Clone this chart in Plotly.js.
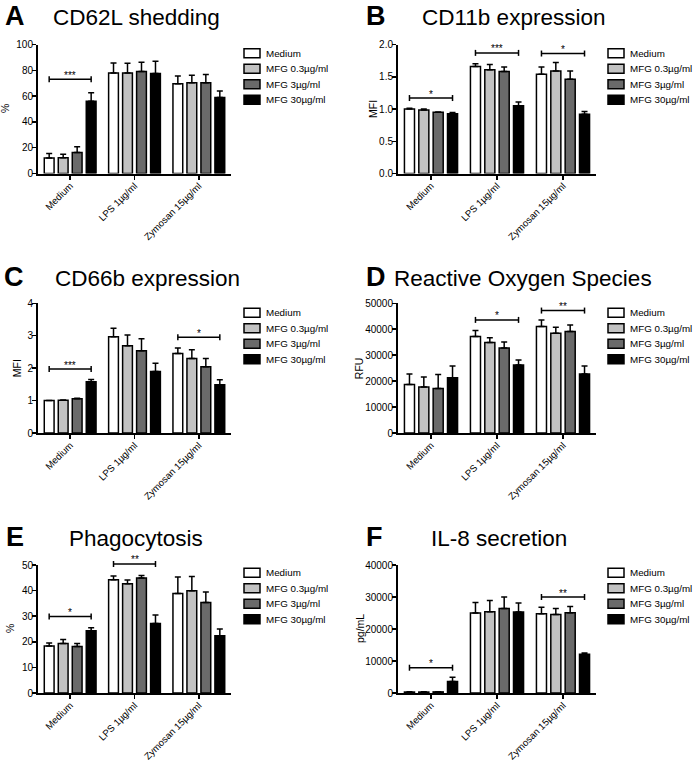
<!DOCTYPE html>
<html><head><meta charset="utf-8">
<script src="https://cdn.plot.ly/plotly-3.0.1.min.js"></script>
<style>html,body{margin:0;padding:0;background:#fff}</style>
</head><body><div id="chart" style="width:696px;height:761px"></div>
<script>
// ---------------- DATA ----------------
const categories = ['Medium', 'LPS 1µg/ml', 'Zymosan 15µg/ml'];
const seriesNames = ['Medium', 'MFG 0.3µg/ml', 'MFG 3µg/ml', 'MFG 30µg/ml'];

// rows = series (Medium, MFG 0.3, MFG 3, MFG 30); columns = categories
const cd62lMean = [[12, 78, 69.5], [12.2, 78, 70.3], [16.3, 79, 70.4], [56, 77.5, 59]];
const cd62lErr  = [[3.5, 7.7, 6], [2.8, 7.5, 5.8], [4.4, 7.3, 6.3], [6.6, 9.5, 5]];
const cd62lSigCat = [0];
const cd62lSigLevel = [73];
const cd62lSigLabel = ['***'];

const cd11bMean = [[1.0, 1.66, 1.54], [0.985, 1.61, 1.59], [0.95, 1.58, 1.46], [0.925, 1.05, 0.92]];
const cd11bErr  = [[0.01, 0.04, 0.11], [0.015, 0.08, 0.13], [0.005, 0.07, 0.13], [0.02, 0.06, 0.04]];
const cd11bSigCat = [0, 1, 2];
const cd11bSigLevel = [1.17, 1.87, 1.86];
const cd11bSigLabel = ['*', '***', '*'];

const cd66bMean = [[1.0, 2.97, 2.45], [1.01, 2.69, 2.3], [1.06, 2.54, 2.04], [1.58, 1.9, 1.49]];
const cd66bErr  = [[0.005, 0.26, 0.17], [0.01, 0.33, 0.27], [0.01, 0.37, 0.26], [0.07, 0.25, 0.15]];
const cd66bSigCat = [0, 2];
const cd66bSigLevel = [1.97, 2.95];
const cd66bSigLabel = ['***', '*'];

const rosMean = [[18700, 37200, 41100], [17700, 34900, 38500], [17200, 32800, 39100], [21300, 26200, 22700]];
const rosErr  = [[4000, 2300, 2500], [3900, 1800, 2300], [5400, 2300, 2500], [4500, 1900, 3100]];
const rosSigCat = [1, 2];
const rosSigLevel = [43600, 47200];
const rosSigLabel = ['*', '**'];

const phagoMean = [[18.4, 44.2, 38.9], [19.3, 42.7, 39.9], [18.2, 44.9, 35.4], [24.3, 27.1, 22.4]];
const phagoErr  = [[1.1, 1.5, 6.4], [1.6, 1.4, 5.6], [1.1, 1.0, 4.1], [1.2, 3.4, 2.6]];
const phagoSigCat = [0, 1];
const phagoSigLevel = [29.9, 50.4];
const phagoSigLabel = ['*', '**'];

const il8Mean = [[300, 25000, 24800], [300, 25400, 24500], [350, 26400, 25100], [3600, 25300, 12100]];
const il8Err  = [[60, 3300, 2000], [60, 3500, 1900], [60, 3600, 1900], [1300, 2800, 400]];
const il8SigCat = [0, 2];
const il8SigLevel = [7900, 30000];
const il8SigLabel = ['*', '**'];

// ---------------- STYLE / LAYOUT ----------------
const W = 696, H = 761;
const FONT = 'Liberation Sans, Arial, Helvetica, sans-serif';
const seriesColors = ['#ffffff', '#c2c2c2', '#6a6a6a', '#000000'];
const BARGAP = 0.13, GROUPGAP = 0.3;
const px = x => x / W;
const py = y => 1 - y / H;

const panels = [
  {letter: 'A', title: 'CD62L shedding', ytitle: '%', mean: cd62lMean, err: cd62lErr,
   sc: cd62lSigCat, sl: cd62lSigLevel, st: cd62lSigLabel, ymax: 100, dtick: 20, fmt: 'd',
   l: 38, r: 231, t: 44.5, b: 173.5, letterX: 3, titleX: 51, rowY: 16, ytX: 5, legX: 244, legY: 53.3},
  {letter: 'B', title: 'CD11b expression', ytitle: 'MFI', mean: cd11bMean, err: cd11bErr,
   sc: cd11bSigCat, sl: cd11bSigLevel, st: cd11bSigLabel, ymax: 2, dtick: 0.5, fmt: '.1f',
   l: 398, r: 596, t: 44.5, b: 173.5, letterX: 364, titleX: 420, rowY: 16, ytX: 373, legX: 608, legY: 53.3},
  {letter: 'C', title: 'CD66b expression', ytitle: 'MFI', mean: cd66bMean, err: cd66bErr,
   sc: cd66bSigCat, sl: cd66bSigLevel, st: cd66bSigLabel, ymax: 4, dtick: 1, fmt: 'd',
   l: 38, r: 231, t: 303.3, b: 433, letterX: 2, titleX: 53, rowY: 277, ytX: 17, legX: 244, legY: 312.7},
  {letter: 'D', title: 'Reactive Oxygen Species', ytitle: 'RFU', mean: rosMean, err: rosErr,
   sc: rosSigCat, sl: rosSigLevel, st: rosSigLabel, ymax: 50000, dtick: 10000, fmt: 'd',
   l: 398, r: 596, t: 303.3, b: 433, letterX: 364, titleX: 392, rowY: 277, ytX: 359, legX: 608, legY: 312.7},
  {letter: 'E', title: 'Phagocytosis', ytitle: '%', mean: phagoMean, err: phagoErr,
   sc: phagoSigCat, sl: phagoSigLevel, st: phagoSigLabel, ymax: 50, dtick: 10, fmt: 'd',
   l: 38, r: 231, t: 565, b: 693, letterX: 4, titleX: 67, rowY: 537, ytX: 10, legX: 244, legY: 572.7},
  {letter: 'F', title: 'IL-8 secretion', ytitle: 'pg/mL', mean: il8Mean, err: il8Err,
   sc: il8SigCat, sl: il8SigLevel, st: il8SigLabel, ymax: 40000, dtick: 10000, fmt: 'd',
   l: 398, r: 596, t: 565, b: 693, letterX: 364, titleX: 429, rowY: 537, ytX: 360, legX: 608, legY: 572.7}
];

const traces = [];
const shapes = [];
const annotations = [];
const layout = {
  width: W, height: H,
  margin: {l: 0, r: 0, t: 0, b: 0},
  paper_bgcolor: '#ffffff', plot_bgcolor: 'rgba(0,0,0,0)',
  font: {family: FONT, color: '#000', size: 10},
  barmode: 'group', bargap: BARGAP, bargroupgap: GROUPGAP,
  showlegend: false
};

panels.forEach((p, i) => {
  const k = i + 1;
  const xs = k === 1 ? '' : String(k);
  const xId = 'x' + xs, yId = 'y' + xs;

  p.mean.forEach((vals, s) => {
    traces.push({
      type: 'bar', name: seriesNames[s], x: categories, y: vals,
      xaxis: xId, yaxis: yId,
      marker: {color: seriesColors[s], line: {color: '#000', width: 1.5}},
      error_y: {type: 'data', symmetric: false, array: p.err[s], arrayminus: p.err[s].map(() => 0),
                color: '#000', thickness: 1.5, width: 3},
      hoverinfo: 'skip'
    });
  });

  const axCommon = {
    showline: true, linewidth: 2, linecolor: '#000', mirror: false,
    ticks: 'outside', ticklen: 4, tickwidth: 1.5, tickcolor: '#000',
    showgrid: false, zeroline: false, fixedrange: true
  };
  layout['xaxis' + xs] = Object.assign({}, axCommon, {
    domain: [px(p.l), px(p.r)], anchor: yId, type: 'category',
    range: [-0.5, 2.5], tickangle: -45, ticklabelstandoff: -3,
    tickfont: {family: FONT, size: 9.6, color: '#000'}
  });
  layout['yaxis' + xs] = Object.assign({}, axCommon, {
    domain: [py(p.b), py(p.t)], anchor: xId,
    range: [0, p.ymax], tick0: 0, dtick: p.dtick, tickformat: p.fmt,
    ticklabelstandoff: -3,
    tickfont: {family: FONT, size: 10, color: '#000'}
  });

  // significance brackets
  const groupW = 1 - BARGAP;
  const tickH = 3 / (p.b - p.t);
  p.sc.forEach((c, j) => {
    const x0 = (c - 0.375 * groupW + 0.5) / 3;
    const x1 = (c + 0.375 * groupW + 0.5) / 3;
    const yv = p.sl[j] / p.ymax;
    const ref = {xref: xId + ' domain', yref: yId + ' domain', line: {color: '#000', width: 1.5}};
    shapes.push(Object.assign({type: 'line', x0: x0, x1: x1, y0: yv, y1: yv}, ref));
    shapes.push(Object.assign({type: 'line', x0: x0, x1: x0, y0: yv - tickH, y1: yv + tickH}, ref));
    shapes.push(Object.assign({type: 'line', x0: x1, x1: x1, y0: yv - tickH, y1: yv + tickH}, ref));
    annotations.push({xref: xId + ' domain', yref: yId + ' domain', x: (x0 + x1) / 2, y: yv,
      text: p.st[j], showarrow: false, xanchor: 'center', yanchor: 'middle', yshift: 4,
      font: {family: FONT, size: 10, color: '#000'}});
  });

  // panel letter and title
  annotations.push({xref: 'paper', yref: 'paper', x: px(p.letterX), y: py(p.rowY),
    text: '<b>' + p.letter + '</b>', showarrow: false, xanchor: 'left', yanchor: 'middle',
    font: {family: FONT, size: 27, color: '#000'}});
  annotations.push({xref: 'paper', yref: 'paper', x: px(p.titleX), y: py(p.rowY + 1),
    text: p.title, showarrow: false, xanchor: 'left', yanchor: 'middle',
    font: {family: FONT, size: 22.5, color: '#000'}});
  // y-axis title
  annotations.push({xref: 'paper', yref: 'paper', x: px(p.ytX), y: py((p.t + p.b) / 2),
    text: p.ytitle, showarrow: false, textangle: -90, xanchor: 'center', yanchor: 'middle',
    font: {family: FONT, size: 10.5, color: '#000'}});

  // legend
  seriesNames.forEach((nm, s) => {
    const yc = p.legY + s * 15.5;
    shapes.push({type: 'rect', xref: 'paper', yref: 'paper',
      x0: px(p.legX), x1: px(p.legX + 16), y0: py(yc + 4.5), y1: py(yc - 4.5),
      fillcolor: seriesColors[s], line: {color: '#000', width: 1.5}});
    annotations.push({xref: 'paper', yref: 'paper', x: px(p.legX + 20), y: py(yc),
      text: nm, showarrow: false, xanchor: 'left', yanchor: 'middle',
      font: {family: FONT, size: 9.8, color: '#000'}});
  });
});

layout.shapes = shapes;
layout.annotations = annotations;

Plotly.newPlot('chart', traces, layout, {displayModeBar: false, staticPlot: true});
</script>
</body></html>
